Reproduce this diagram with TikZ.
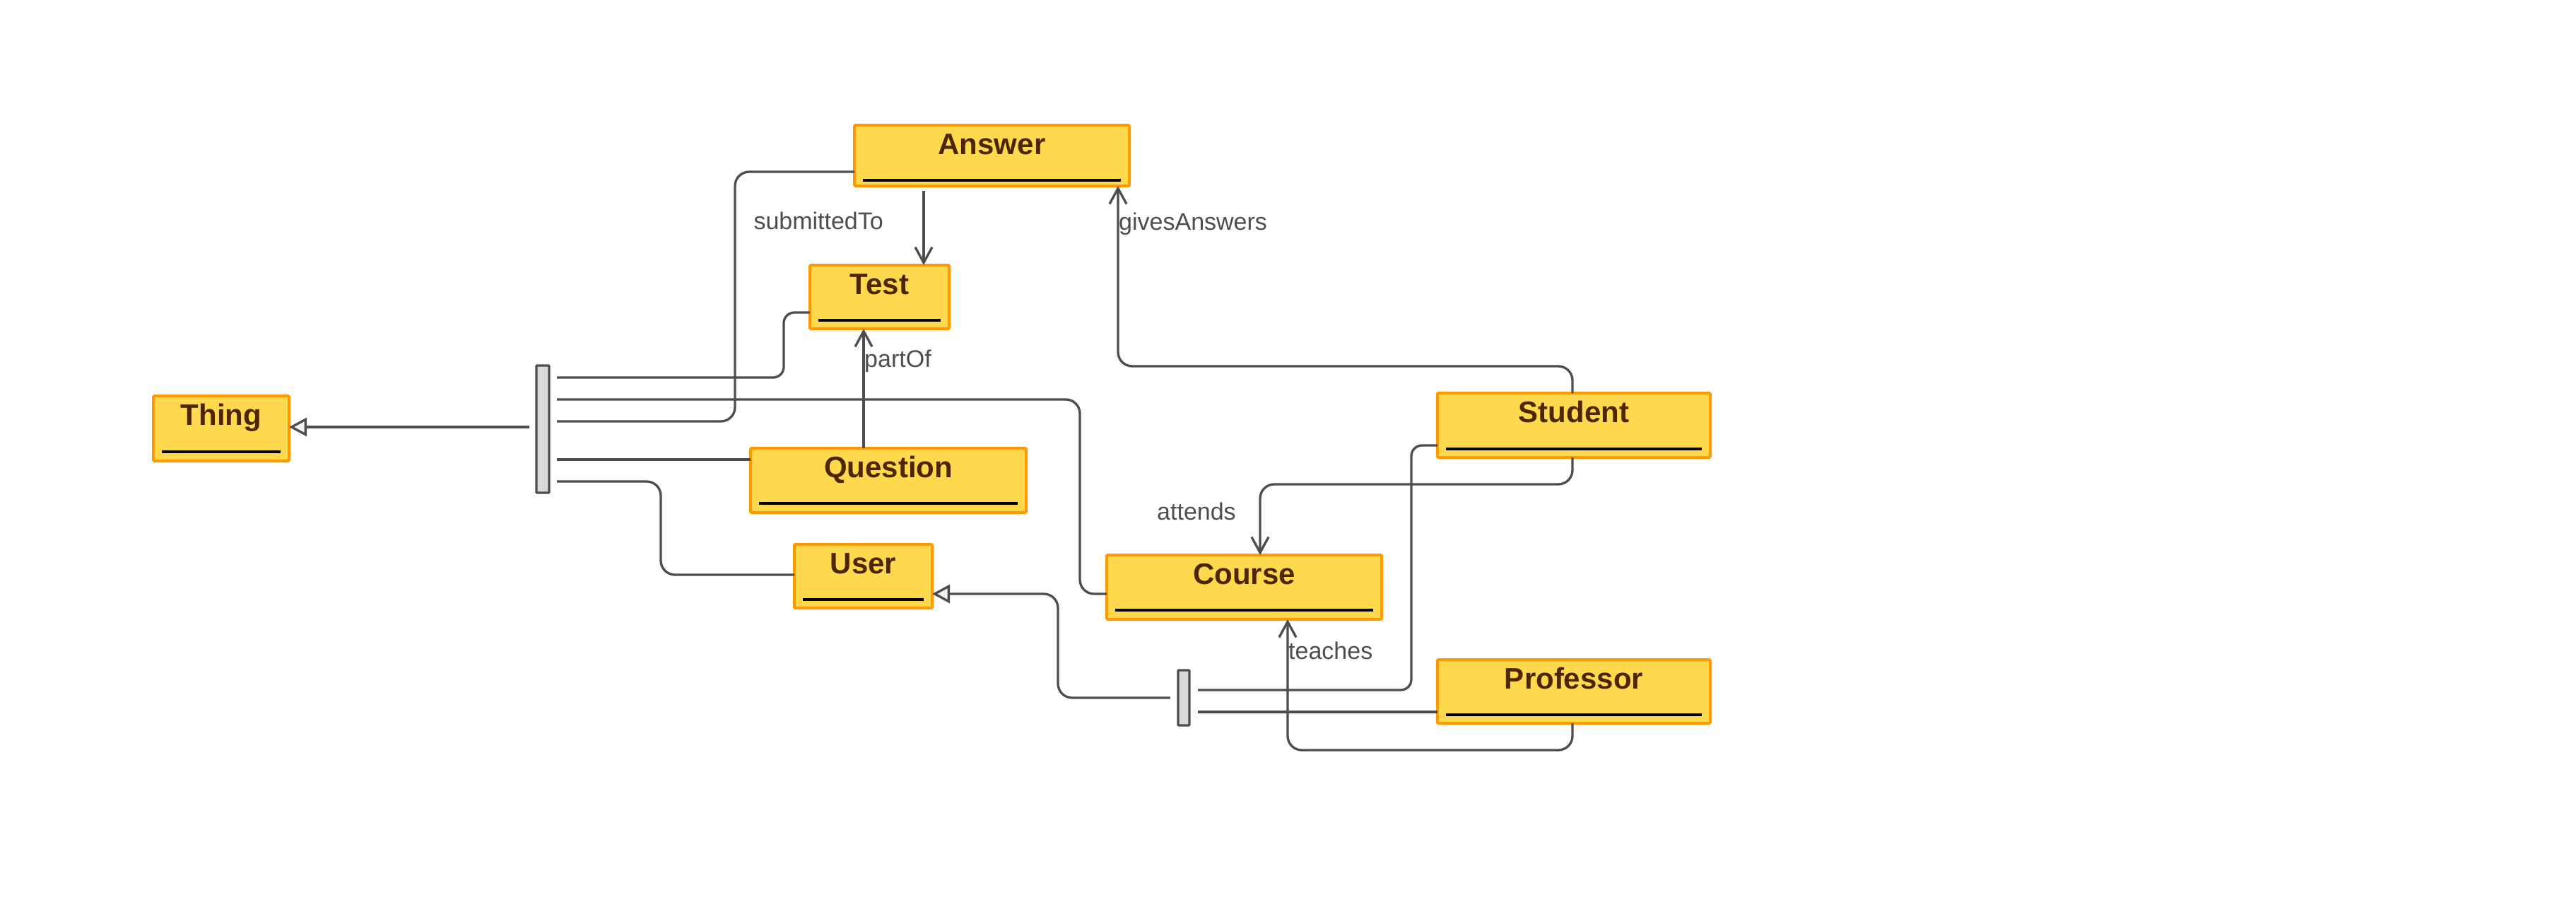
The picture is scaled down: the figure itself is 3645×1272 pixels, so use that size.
\documentclass[tikz,border=0pt]{standalone}
\usepackage{fontspec}
\setmainfont{Liberation Sans}
\usetikzlibrary{arrows.meta,calc}
\definecolor{boxfill}{HTML}{FFD94D}
\definecolor{boxdraw}{HTML}{FF9900}
\definecolor{boxtext}{HTML}{4D2600}
\definecolor{linecol}{HTML}{4D4D4D}
\definecolor{barfill}{HTML}{D9D9D9}
\definecolor{genfill}{HTML}{F0F0F0}
\newcommand\umlclass[7]{%
  \node[classbox, minimum width=#4pt, minimum height=#5pt] (#1) at (#2,#3) {};
  \node[title] (#1-t) at ($(#1.north)+(0,41)$) {#6};
  \draw[black, line width=3.6pt] ($(#1.south west)+(12,-#7)$) -- ($(#1.south east)+(-12,-#7)$);
}
\begin{document}
\begin{tikzpicture}[x=1pt,y=-1pt,
  classbox/.style={draw=boxdraw, fill=boxfill, line width=4pt, rounded corners=1.5pt, inner sep=0pt, outer sep=0pt},
  bar/.style={draw=linecol, fill=barfill, line width=3.3pt, inner sep=0pt, outer sep=0pt, rounded corners=1pt},
  conn/.style={draw=linecol, line width=3.3pt, rounded corners=20pt},
  assoc/.style={conn, -{Straight Barb[length=22pt,width=24pt]}},
  gen/.style={conn, -{Triangle[length=25pt,width=26pt,fill=genfill]}},
  lbl/.style={text=linecol, font=\fontsize{34}{40}\selectfont, inner sep=0pt},
  title/.style={text=boxtext, font=\bfseries\fontsize{42}{50}\selectfont, inner sep=0pt, anchor=base},
]
\useasboundingbox (0,0) rectangle (3645,1272);

% classes
\umlclass{Thing}{313}{606}{192}{92}{Thing}{13}
\umlclass{Answer}{1403.5}{220}{389}{86}{Answer}{8}
\umlclass{Test}{1244.5}{420}{197}{90}{Test}{12}
\umlclass{Question}{1257}{679.5}{390}{91}{Question}{13}
\umlclass{User}{1221.5}{815}{195}{90}{User}{12}
\umlclass{Course}{1760.5}{830.5}{389}{91}{Course}{13}
\umlclass{Student}{2227}{601.5}{386}{91}{Student}{12}
\umlclass{Professor}{2227}{978}{386}{90}{Professor}{12}

% generalization junction bars
\node[bar, minimum width=18pt, minimum height=180pt] (bar1) at (768,607) {};
\node[bar, minimum width=16pt, minimum height=78pt] (bar2) at (1675,987) {};

% generalization to Thing
\draw[gen] ($(bar1.west)+(-10,-3)$) -- ($(Thing.east)+(0,-2)$);
\draw[conn, rounded corners=15pt] ($(bar1.east)+(11,-73)$) -| ($(Test.west)+(-37,22)$) -- ($(Test.west)+(0,22)$);
\draw[conn] ($(bar1.east)+(11,-42)$) -| ($(Course.west)+(-38,9.5)$) -- ($(Course.west)+(0,9.5)$);
\draw[conn] ($(bar1.east)+(11,-11)$) -| ($(Answer.west)+(-169,23)$) -- ($(Answer.west)+(0,23)$);
\draw[conn] ($(bar1.east)+(11,43)$) -- ($(Question.west)+(0,-29.5)$);
\draw[conn] ($(bar1.east)+(11,74)$) -| ($(User.west)+(-189,-2)$) -- ($(User.west)+(0,-2)$);

% generalization to User
\draw[gen] ($(bar2.west)+(-11,0)$) -| ($(User.east)+(178,25)$) -- ($(User.east)+(0,25)$);
\draw[conn, rounded corners=15pt] ($(bar2.east)+(12,-11)$) -| ($(Student.west)+(-37,28.5)$) -- ($(Student.west)+(0,28.5)$);
\draw[conn] ($(bar2.east)+(12,20)$) -- ($(Professor.west)+(0,29)$);

% associations
\draw[assoc] ($(Answer.south)+(-96.5,7)$) coordinate (sA) -- (sA |- Test.north);
\node[lbl, anchor=base east] (lsub) at (1250,324) {submittedTo};

\draw[assoc] ($(Student.north)+(-2,0)$) |- ($(Answer.south east)+(-16,255)$) -- ($(Answer.south east)+(-16,0)$);
\node[lbl, anchor=base west] (lgive) at (1583,325) {givesAnswers};

\draw[assoc] ($(Question.north)+(-35,0)$) coordinate (sQ) -- (sQ |- Test.south);
\node[lbl, anchor=base west] (lpart) at (1223,519) {partOf};

\draw[assoc] ($(Student.south)+(-2,0)$) |- ($(Course.north)+(22.5,-100)$) -- ($(Course.north)+(22.5,0)$);
\node[lbl, anchor=base west] (latt) at (1637,735) {attends};

\draw[assoc] ($(Professor.south)+(-2,0)$) |- ($(Course.south)+(61.5,185)$) -- ($(Course.south)+(61.5,0)$);
\node[lbl, anchor=base west] (lteach) at (1823,932) {teaches};
\end{tikzpicture}
\end{document}
